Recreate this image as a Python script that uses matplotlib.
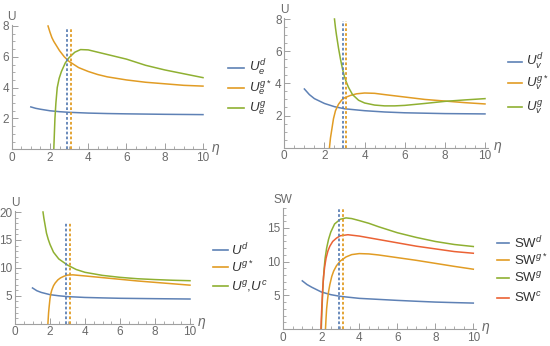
import matplotlib
matplotlib.use("Agg")
import matplotlib.pyplot as plt
from matplotlib.lines import Line2D
from matplotlib.ticker import MultipleLocator

plt.rcParams["font.family"] = ["Liberation Sans", "DejaVu Sans"]
plt.rcParams["mathtext.fontset"] = "custom"
plt.rcParams["mathtext.rm"] = "Liberation Sans"
plt.rcParams["mathtext.it"] = "Liberation Sans:italic"
plt.rcParams["mathtext.bf"] = "Liberation Sans:bold"

W, H = 550, 346
BLUE = "#5E81B5"
ORANGE = "#E19C24"
GREEN = "#8FB032"
RED = "#EB6235"
AXC = "#A0A0A0"
TXC = "#6A6A6A"

# ---------------- data ----------------
# Panel 1 (U_e)
p1_d_x = [1, 1.25, 1.5, 2, 2.5, 3, 4, 5, 6, 8, 10]
p1_d_y = [2.75, 2.66, 2.6, 2.5, 2.44, 2.4, 2.35, 2.32, 2.3, 2.27, 2.25]
p1_gs_x = [1.9, 2.0, 2.1, 2.2, 2.35, 2.5, 2.75, 3.0, 3.5, 4, 4.5, 5, 6, 7, 8, 9, 10]
p1_gs_y = [8.0, 7.6, 7.25, 7.0, 6.7, 6.4, 6.0, 5.7, 5.3, 5.05, 4.85, 4.7, 4.5, 4.35, 4.25, 4.15, 4.1]
p1_g_x = [2.2, 2.23, 2.26, 2.31, 2.38, 2.48, 2.6, 2.8, 3.0, 3.3, 3.6, 4.0, 4.5, 5, 6, 7, 8, 9, 10]
p1_g_y = [0, 1, 2, 3, 4, 4.6, 5.05, 5.6, 5.95, 6.3, 6.47, 6.45, 6.3, 6.15, 5.85, 5.45, 5.15, 4.9, 4.65]

# Panel 2 (U_v)
p2_d_x = [1, 1.25, 1.5, 2, 2.5, 3, 4, 5, 6, 8, 10]
p2_d_y = [3.65, 3.3, 3.05, 2.75, 2.55, 2.42, 2.3, 2.22, 2.17, 2.12, 2.1]
p2_gs_x = [2.25, 2.3, 2.35, 2.45, 2.55, 2.7, 2.85, 3.0, 3.3, 3.6, 4, 4.5, 5, 6, 7, 8, 9, 10]
p2_gs_y = [0, 0.6, 1, 1.8, 2.3, 2.7, 2.95, 3.1, 3.25, 3.35, 3.4, 3.38, 3.3, 3.15, 3.0, 2.9, 2.8, 2.72]
p2_g_x = [2.5, 2.55, 2.6, 2.7, 2.8, 2.9, 3.0, 3.1, 3.2, 3.4, 3.7, 4, 4.5, 5, 5.5, 6, 7, 8, 9, 10]
p2_g_y = [8, 7.45, 7.0, 6.2, 5.5, 4.9, 4.4, 4.05, 3.75, 3.3, 2.95, 2.78, 2.65, 2.6, 2.6, 2.63, 2.75, 2.88, 2.97, 3.05]

# Panel 3 (U)
p3_d_x = [1, 1.25, 1.5, 2, 2.5, 3, 4, 5, 6, 8, 10]
p3_d_y = [6.4, 5.9, 5.6, 5.2, 5.0, 4.85, 4.7, 4.62, 4.55, 4.48, 4.42]
p3_gs_x = [1.88, 1.92, 1.95, 2.0, 2.05, 2.1, 2.2, 2.3, 2.45, 2.6, 2.8, 3.0, 3.3, 4, 5, 6, 7, 8, 9, 10]
p3_gs_y = [0, 2, 3, 4.5, 5.4, 6, 6.8, 7.3, 7.85, 8.2, 8.5, 8.7, 8.75, 8.55, 8.25, 7.95, 7.65, 7.4, 7.15, 6.9]
p3_g_x = [1.6, 1.65, 1.7, 1.8, 1.9, 2.0, 2.2, 2.5, 3, 3.5, 4, 5, 6, 7, 8, 9, 10]
p3_g_y = [20, 18.9, 18, 16.2, 15.1, 14.2, 12.8, 11.6, 10.5, 9.7, 9.2, 8.65, 8.3, 8.05, 7.9, 7.78, 7.7]

# Panel 4 (SW)
p4_d_x = [1, 1.25, 1.5, 2, 2.5, 3, 4, 5, 6, 7, 8, 9, 10]
p4_d_y = [7.15, 6.6, 6.2, 5.5, 5.1, 4.85, 4.55, 4.4, 4.25, 4.12, 4.0, 3.92, 3.85]
p4_gs_x = [2.22, 2.25, 2.28, 2.33, 2.38, 2.45, 2.55, 2.65, 2.8, 3.0, 3.3, 3.6, 4, 4.5, 5, 6, 7, 8, 9, 10]
p4_gs_y = [0, 1.6, 3, 4.4, 5.5, 6.6, 7.8, 8.6, 9.4, 10.1, 10.7, 11.05, 11.2, 11.15, 11.0, 10.6, 10.2, 9.75, 9.3, 8.88]
p4_g_x = [2.0, 2.03, 2.06, 2.1, 2.15, 2.2, 2.28, 2.38, 2.5, 2.7, 3.0, 3.3, 3.6, 4, 4.5, 5, 6, 7, 8, 9, 10]
p4_g_y = [0, 2.5, 4.6, 7, 9, 10.5, 12, 13.3, 14.4, 15.6, 16.3, 16.5, 16.4, 16.1, 15.7, 15.2, 14.3, 13.6, 13.0, 12.55, 12.25]
p4_c_x = [1.98, 2.0, 2.03, 2.07, 2.12, 2.18, 2.25, 2.35, 2.45, 2.6, 2.8, 3.0, 3.4, 4, 5, 6, 7, 8, 9, 10]
p4_c_y = [0, 1.5, 3.5, 5.8, 7.8, 9.3, 10.5, 11.6, 12.3, 13.0, 13.5, 13.85, 14.0, 13.8, 13.3, 12.8, 12.3, 11.9, 11.5, 11.25]

# threshold (dotted) lines: (x_blue, x_orange)
p1_vlines = [2.9, 3.1]
p2_vlines = [2.91, 3.08]
p3_vlines = [2.93, 3.13]
p4_vlines = [2.93, 3.12]

p1_labels = [r"$U_e^{d}$", r"$U_e^{g*}$", r"$U_e^{g}$"]
p2_labels = [r"$U_v^{d}$", r"$U_v^{g*}$", r"$U_v^{g}$"]
p3_labels = [r"$U^{d}$", r"$U^{g*}$", r"$U^{g}$,$U^{c}$"]
p4_labels = [r"SW$^{d}$", r"SW$^{g*}$", r"SW$^{g}$", r"SW$^{c}$"]

fig = plt.figure(figsize=(W / 100, H / 100), dpi=100)


def place(xa, pxa, xb, pxb, ya, pya, yb, pyb, xlim, ylim):
    sx = (pxb - pxa) / (xb - xa)
    sy = (pyb - pya) / (yb - ya)
    lp = pxa + (xlim[0] - xa) * sx
    rp = pxa + (xlim[1] - xa) * sx
    tp = pya + (ylim[1] - ya) * sy
    bp = pya + (ylim[0] - ya) * sy
    ax = fig.add_axes([lp / W, 1 - bp / H, (rp - lp) / W, (bp - tp) / H])
    ax.set_xlim(*xlim)
    ax.set_ylim(*ylim)
    return ax


def style(ax, ymin, ylabel, yticks):
    for s in ["top", "right"]:
        ax.spines[s].set_visible(False)
    for s in ["left", "bottom"]:
        ax.spines[s].set_color(AXC)
        ax.spines[s].set_linewidth(0.8)
    ax.set_facecolor("none")
    ax.xaxis.set_major_locator(MultipleLocator(2))
    ax.xaxis.set_minor_locator(MultipleLocator(0.5))
    ax.set_yticks(yticks)
    ax.yaxis.set_minor_locator(MultipleLocator(ymin))
    ax.tick_params(which="major", direction="in", length=4, width=0.7, color=AXC,
                   labelsize=8.5, labelcolor=TXC, pad=2)
    ax.tick_params(which="minor", direction="in", length=2, width=0.6, color=AXC)
    ax.text(0, 1.015, ylabel, transform=ax.transAxes, ha="center", va="bottom",
            color=TXC, fontsize=8.5)
    ax.text(1.025, 0.0, r"$\eta$", transform=ax.transAxes, ha="left", va="center",
            color=TXC, fontsize=10)


def legend(entries, x0, x1, xt, ys, fs=9.5):
    for (col, lab), y in zip(entries, ys):
        fig.add_artist(Line2D([x0 / W, x1 / W], [1 - y / H, 1 - y / H], color=col, lw=1.2))
        fig.text(xt / W, 1 - y / H, lab, ha="left", va="center", fontsize=fs, color="#333333")


def vlines(ax, xs, ytop):
    for x, c in zip(xs, [BLUE, ORANGE]):
        ax.plot([x, x], [0, ytop], color=c, lw=1.3, ls=(0, (1.5, 1.2)))


LW = 1.1

# Panel 1
ax1 = place(0, 11.7, 10, 203, 0, 149.3, 8, 26, (0, 10.15), (0, 8.05))
style(ax1, 0.5, "U", [2, 4, 6, 8])
ax1.plot(p1_d_x, p1_d_y, color=BLUE, lw=LW)
ax1.plot(p1_gs_x, p1_gs_y, color=ORANGE, lw=LW)
ax1.plot(p1_g_x, p1_g_y, color=GREEN, lw=LW)
vlines(ax1, p1_vlines, 7.85)
legend(list(zip([BLUE, ORANGE, GREEN], p1_labels)), 228, 244, 249, [68, 88, 108])

# Panel 2
ax2 = place(0, 284.3, 10, 485, 0, 147.7, 8, 19, (0, 10.15), (0, 8.05))
style(ax2, 0.5, "U", [2, 4, 6, 8])
ax2.plot(p2_d_x, p2_d_y, color=BLUE, lw=LW)
ax2.plot(p2_gs_x, p2_gs_y, color=ORANGE, lw=LW)
ax2.plot(p2_g_x, p2_g_y, color=GREEN, lw=LW)
vlines(ax2, p2_vlines, 7.9)
legend(list(zip([BLUE, ORANGE, GREEN], p2_labels)), 508, 522, 526, [62, 83, 107])

# Panel 3
ax3 = place(0, 15, 10, 190, 0, 323.7, 20, 212, (0, 10.15), (0, 20.2))
style(ax3, 1, "U", [5, 10, 15, 20])
ax3.plot(p3_d_x, p3_d_y, color=BLUE, lw=LW)
ax3.plot(p3_gs_x, p3_gs_y, color=ORANGE, lw=LW)
ax3.plot(p3_g_x, p3_g_y, color=GREEN, lw=LW)
vlines(ax3, p3_vlines, 18.0)
legend(list(zip([BLUE, ORANGE, GREEN], p3_labels)), 213, 228, 231, [250, 267, 286])

# Panel 4
ax4 = place(0, 283.3, 10, 473.3, 0, 329, 15, 228, (0, 10.15), (0, 18))
style(ax4, 1, "SW", [5, 10, 15])
ax4.plot(p4_d_x, p4_d_y, color=BLUE, lw=LW)
ax4.plot(p4_gs_x, p4_gs_y, color=ORANGE, lw=LW)
ax4.plot(p4_g_x, p4_g_y, color=GREEN, lw=LW)
ax4.plot(p4_c_x, p4_c_y, color=RED, lw=LW)
vlines(ax4, p4_vlines, 18.0)
legend(list(zip([BLUE, ORANGE, GREEN, RED], p4_labels)), 497, 509, 514, [243, 260, 278, 298])

fig.savefig("out.png", dpi=100)
